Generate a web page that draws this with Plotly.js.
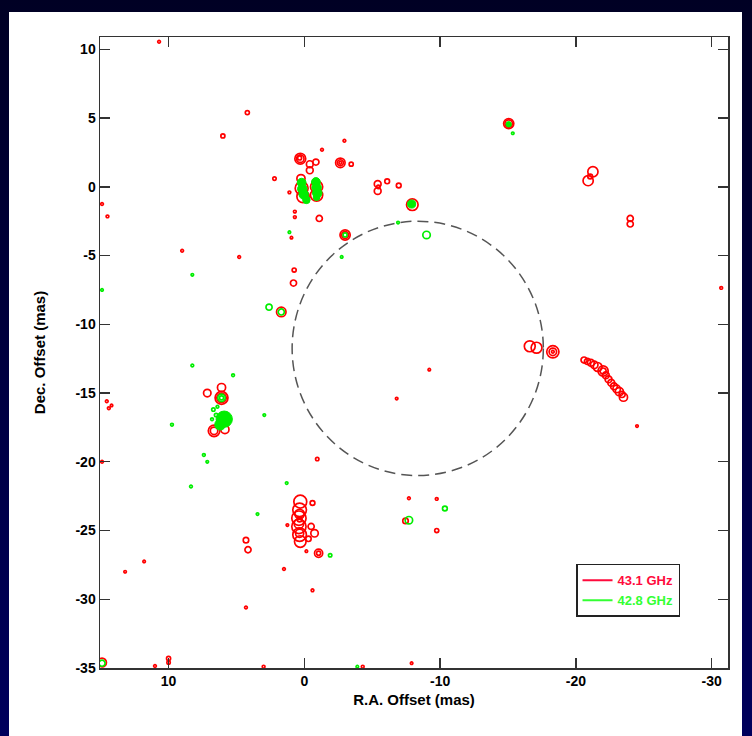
<!DOCTYPE html>
<html>
<head>
<meta charset="utf-8">
<script src="https://cdn.plot.ly/plotly-3.0.1.min.js"></script>
<style>
  html, body { margin: 0; padding: 0; width: 752px; height: 736px; overflow: hidden; }
  body { background: linear-gradient(to bottom, #000024 0%, #00003a 40%, #00005c 100%); position: relative; }
  #panel { position: absolute; left: 9px; top: 12px; width: 733px; height: 724px; background: #ffffff; }
  #chart { position: absolute; left: 0; top: 0; width: 752px; height: 736px; }
</style>
</head>
<body>
<div id="panel"></div>
<div id="chart"></div>
<script>
// ---- 43.1 GHz (red) maser contour rings: R.A. offset, Dec. offset, ring diameter (mas)
const redX = [10.7, 4.2, 6.0, 2.2, 14.9, 14.5, 0.3, 0.3, 0.35, -0.4, -0.4, -0.85, -1.3, -2.65, -2.65, -2.65, -3.45, -2.95,
  0.2, 0.1, -0.9, -0.9, 0.25, 1.1, 0.7, 0.7, -1.1, -5.4, -5.4, -5.45, -6.1, -6.95, -7.95, -3.0, -3.0, 0.95,
  -15.05, -15.05, -21.25, -20.9, -21.05, -24.0, -24.0, -30.7, 9.0, 4.8, 0.75, 0.8, 1.7,
  -16.6, -17.1, -18.3, -18.3, -18.3, -20.6, -20.85, -21.1, -21.35, -21.6, -22.0, -22.0, -22.2, -22.4, -22.6, -22.8, -23.0, -23.2, -23.4, -23.5, -24.5, -9.2, -6.8,
  7.15, 6.1, 6.1, 6.1, 6.65, 6.65, 5.85, 14.55, 14.4, 14.2, 14.9, -0.95,
  0.3, 0.35, 0.4, 0.4, 0.35, 0.3, 0.35, 0.4, 0.35, 0.35, -0.5, -0.75, -0.3, -0.6, -1.05, -1.05, -0.15, 1.25, 1.5,
  4.3, 4.15, -0.6, 4.3, 13.2, 11.8, -7.7, -7.45, -9.75, -9.75,
  14.9, 10.0, 10.0, 11.0, 3.0, -4.3, -7.9];
const redY = [10.55, 5.4, 3.7, 0.6, -1.25, -2.15, 2.05, 2.05, 2.1, 1.65, 1.2, 1.8, 2.7, 1.75, 1.75, 1.75, 1.65, 3.35,
  -0.1, -0.7, 0.0, -0.6, 0.6, -0.4, -1.8, -2.2, -2.3, 0.2, -0.3, 0.0, 0.4, 0.1, -1.3, -3.5, -3.5, -3.7,
  4.6, 4.6, 1.1, 0.45, 0.75, -2.3, -2.7, -7.35, -4.65, -5.1, -6.05, -7.0, -9.1,
  -11.6, -11.7, -12.0, -12.0, -12.0, -12.6, -12.7, -12.8, -12.95, -13.1, -13.4, -13.4, -13.7, -14.0, -14.25, -14.5, -14.7, -14.9, -15.1, -15.3, -17.4, -13.3, -15.4,
  -15.0, -15.35, -15.35, -14.6, -17.75, -17.75, -17.65, -15.6, -16.1, -15.9, -20.0, -19.8,
  -22.9, -23.5, -24.1, -24.7, -25.3, -25.8, -23.8, -24.5, -25.2, -24.2, -24.7, -25.2, -25.6, -23.0, -26.65, -26.65, -26.5, -24.6, -27.8,
  -25.7, -26.4, -29.35, -30.6, -28.0, -27.25, -22.65, -24.3, -22.7, -25.0,
  -34.6, -34.3, -34.6, -34.85, -34.9, -34.9, -34.65];
const redD = [0.2, 0.3, 0.3, 0.25, 0.2, 0.2, 0.8, 0.55, 0.3, 0.5, 0.5, 0.45, 0.2, 0.7, 0.45, 0.2, 0.3, 0.2,
  0.95, 0.9, 0.9, 0.9, 0.6, 0.2, 0.2, 0.2, 0.45, 0.5, 0.5, 0.25, 0.35, 0.35, 0.85, 0.75, 0.5, 0.15,
  0.75, 0.55, 0.75, 0.75, 0.35, 0.45, 0.45, 0.2, 0.2, 0.2, 0.3, 0.45, 0.7,
  0.8, 0.8, 0.9, 0.55, 0.2, 0.45, 0.45, 0.5, 0.55, 0.65, 0.75, 0.45, 0.5, 0.5, 0.5, 0.5, 0.55, 0.6, 0.45, 0.6, 0.15, 0.15, 0.15,
  0.55, 0.95, 0.7, 0.6, 0.85, 0.55, 0.6, 0.2, 0.2, 0.15, 0.2, 0.25,
  0.95, 1.0, 1.05, 1.05, 1.0, 0.85, 0.7, 0.7, 0.6, 0.35, 0.45, 0.55, 0.4, 0.35, 0.6, 0.3, 0.15, 0.15, 0.2,
  0.4, 0.45, 0.2, 0.2, 0.15, 0.15, 0.2, 0.4, 0.2, 0.3,
  0.65, 0.3, 0.25, 0.2, 0.2, 0.2, 0.15];

// ---- 42.8 GHz (green) contour rings
const greenX = [-15.35, -9.0, -6.9, -3.0, 1.1, -2.75, 8.25, 2.6, 1.7, 8.25, 5.25, 6.1, 6.1, 6.7, 6.5, 6.8, 6.4, 2.95,
  9.75, 7.4, 7.15, 8.35, 1.3, 3.45, -1.9, -7.7, -10.35, 14.9, 14.9, -3.9];
const greenY = [3.9, -3.5, -2.6, -3.5, -3.3, -5.1, -6.4, -8.75, -9.1, -13.0, -13.7, -15.35, -15.35, -16.2, -16.6, -16.9, -16.0, -16.6,
  -17.3, -19.5, -20.0, -21.8, -21.55, -23.8, -26.8, -24.25, -23.4, -7.5, -34.65, -34.9];
const greenD = [0.15, 0.55, 0.15, 0.3, 0.15, 0.15, 0.15, 0.45, 0.45, 0.2, 0.2, 0.55, 0.3, 0.25, 0.25, 0.2, 0.2, 0.1,
  0.2, 0.2, 0.15, 0.2, 0.15, 0.15, 0.25, 0.55, 0.35, 0.15, 0.45, 0.15];

// ---- 42.8 GHz (green) densely contoured (saturated) cores
const greenCoreX = [0.2, 0.15, 0.05, -0.15, -0.85, -0.9, -0.95, -0.9, -7.9, -15.05, 5.9, 6.2];
const greenCoreY = [0.3, -0.15, -0.55, -0.95, 0.35, -0.05, -0.45, -0.75, -1.25, 4.55, -16.9, -17.3];
const greenCoreD = [0.65, 0.7, 0.7, 0.55, 0.65, 0.7, 0.7, 0.5, 0.6, 0.4, 1.2, 0.8];

// ---- dashed circle: centre (R.A., Dec.) and radius (mas)
const circleCentre = [-8.35, -11.75];
const circleRadius = 9.25;

// ---- axes and legend
const xRange = [15.05, -31.2];
const yRange = [-35, 10.9];
const xTicks = [10, 0, -10, -20, -30];
const yTicks = [10, 5, 0, -5, -10, -15, -20, -25, -30, -35];
const legendNames = ['43.1 GHz', '42.8 GHz'];
const RED = '#ff0000', GREEN = '#00ee00';

const M = {l: 100, r: 24, t: 37, b: 68};
const pxPerMas = (752 - M.l - M.r) / Math.abs(xRange[0] - xRange[1]);
const px = arr => arr.map(d => Math.max(2.5, d * pxPerMas));

const traces = [
  {type: 'scatter', mode: 'markers', x: redX, y: redY, showlegend: false, hoverinfo: 'skip',
   marker: {symbol: 'circle-open', size: px(redD), color: RED, opacity: 1, line: {width: 1.7, color: RED}}},
  {type: 'scatter', mode: 'markers', x: greenX, y: greenY, showlegend: false, hoverinfo: 'skip',
   marker: {symbol: 'circle-open', size: px(greenD), color: GREEN, opacity: 1, line: {width: 1.7, color: GREEN}}},
  {type: 'scatter', mode: 'markers', x: greenCoreX, y: greenCoreY, showlegend: false, hoverinfo: 'skip',
   marker: {symbol: 'circle', size: px(greenCoreD), color: GREEN, opacity: 1, line: {width: 1, color: GREEN}}},
  {type: 'scatter', mode: 'lines', x: [null], y: [null], name: '<span style="color:#ff0a3c">' + legendNames[0] + '</span>',
   line: {color: '#ff0a3c', width: 2}, legendrank: 1},
  {type: 'scatter', mode: 'lines', x: [null], y: [null], name: '<span style="color:#33ff33">' + legendNames[1] + '</span>',
   line: {color: '#33ff33', width: 2}, legendrank: 2}
];

const axisCommon = {
  showline: true, linecolor: '#333', linewidth: 1.5, mirror: 'ticks',
  ticks: 'inside', ticklen: 10, tickwidth: 1.3, tickcolor: '#333',
  showgrid: false, zeroline: false, autorange: false,
  tickfont: {family: 'Liberation Sans, Arial, sans-serif', size: 14, color: '#000', weight: 'bold'}
};

const layout = {
  width: 752, height: 736,
  margin: M,
  paper_bgcolor: 'rgba(0,0,0,0)',
  plot_bgcolor: '#ffffff',
  font: {family: 'Liberation Sans, Arial, sans-serif', color: '#000'},
  xaxis: Object.assign({}, axisCommon, {
    range: xRange, tickmode: 'array', tickvals: xTicks, ticktext: xTicks.map(String),
    title: {text: 'R.A. Offset (mas)', font: {family: 'Liberation Sans, Arial, sans-serif', size: 15, color: '#000', weight: 'bold'}, standoff: 6}
  }),
  yaxis: Object.assign({}, axisCommon, {
    range: yRange, tickmode: 'array', tickvals: yTicks, ticktext: yTicks.map(String),
    title: {text: 'Dec. Offset (mas)', font: {family: 'Liberation Sans, Arial, sans-serif', size: 15, color: '#000', weight: 'bold'}, standoff: 26}
  }),
  shapes: [{
    type: 'circle', xref: 'x', yref: 'y',
    x0: circleCentre[0] - circleRadius, x1: circleCentre[0] + circleRadius,
    y0: circleCentre[1] - circleRadius, y1: circleCentre[1] + circleRadius,
    line: {color: '#555', width: 1.5, dash: '11px,6px'}
  }],
  showlegend: true,
  legend: {
    x: 0.758, y: 0.165, xanchor: 'left', yanchor: 'top',
    bgcolor: '#ffffff', bordercolor: '#222', borderwidth: 1.5,
    font: {family: 'Liberation Sans, Arial, sans-serif', size: 13, weight: 'bold'},
    itemwidth: 30
  }
};

Plotly.newPlot('chart', traces, layout, {staticPlot: true, displayModeBar: false});
</script>
</body>
</html>
